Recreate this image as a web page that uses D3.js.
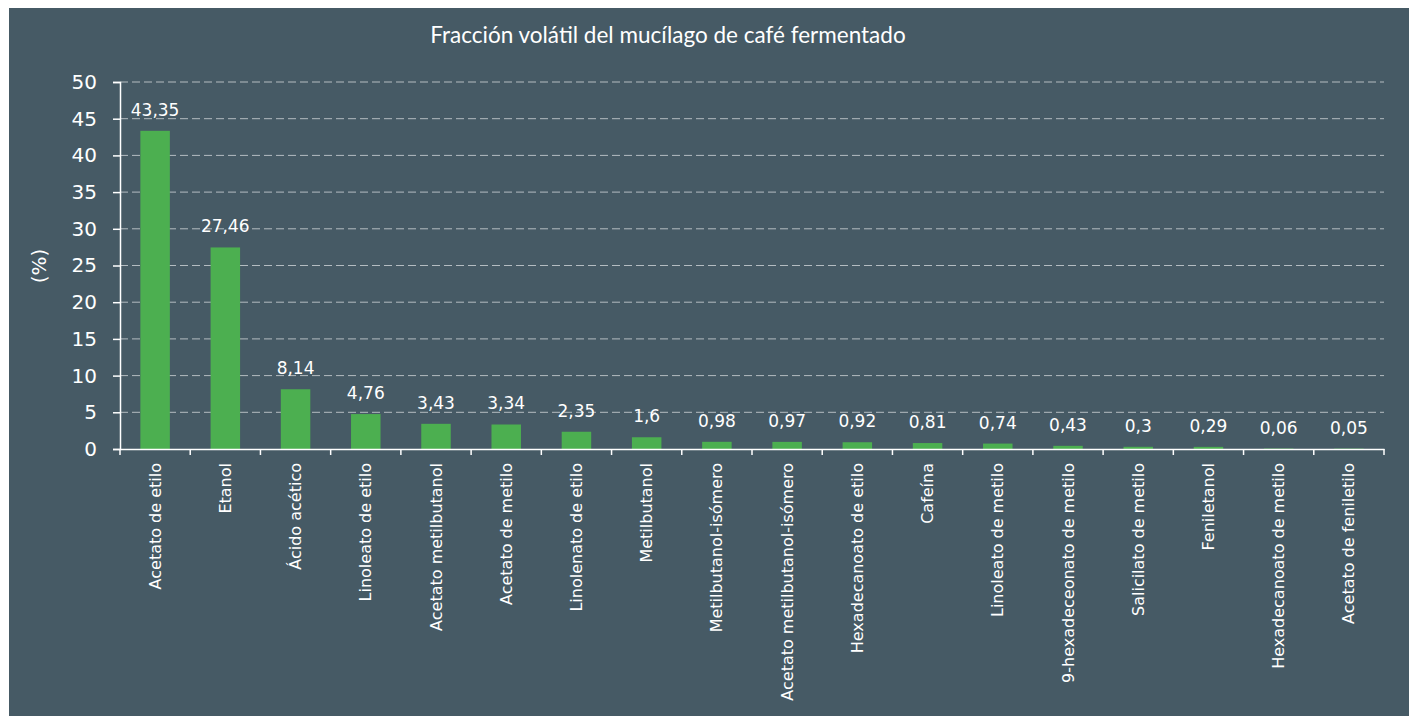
<!DOCTYPE html>
<html lang="es">
<head>
<meta charset="utf-8">
<title>Fracción volátil del mucílago de café fermentado</title>
<script src="https://d3js.org/d3.v7.min.js"></script>
<style>
  body { margin: 0; background: #ffffff; }
  svg { display: block; }
</style>
</head>
<body>
<div id="chart"></div>
<script>
// data
var categories = ["Acetato de etilo", "Etanol", "Ácido acético", "Linoleato de etilo",
  "Acetato metilbutanol", "Acetato de metilo", "Linolenato de etilo", "Metilbutanol",
  "Metilbutanol-isómero", "Acetato metilbutanol-isómero", "Hexadecanoato de etilo",
  "Cafeína", "Linoleato de metilo", "9-hexadeceonato de metilo", "Salicilato de metilo",
  "Feniletanol", "Hexadecanoato de metilo", "Acetato de feniletilo"]
var values = [43.35, 27.46, 8.14, 4.76, 3.43, 3.34, 2.35, 1.6, 0.98, 0.97, 0.92,
  0.81, 0.74, 0.43, 0.3, 0.29, 0.06, 0.05]
var yTicks = [0, 5, 10, 15, 20, 25, 30, 35, 40, 45, 50]
var title = "Fracción volátil del mucílago de café fermentado"
var yLabel = "(%)"

var w = 1412
var h = 716
var plotLeft = 120, plotRight = 1384, plotTop = 82, plotBottom = 449
var font = "'DejaVu Sans', sans-serif"

var svg = d3.select("#chart").append("svg")
  .attr("width", w)
  .attr("height", h)

// dark panel
svg.append("rect")
  .attr("x", 9).attr("y", 8)
  .attr("width", 1400).attr("height", h - 8)
  .attr("fill", "#465a65")

var xScale = d3.scaleBand()
  .domain(categories)
  .range([plotLeft, plotRight])
  .paddingInner(0.58)
  .paddingOuter(0.29)

var yScale = d3.scaleLinear()
  .domain([0, 50])
  .range([plotBottom, plotTop])

// dashed grid
svg.append("g")
  .selectAll("line")
  .data(yTicks.filter(function(d){ return d > 0 }))
  .enter()
  .append("line")
  .attr("x1", plotLeft).attr("x2", plotRight)
  .attr("y1", function(d){ return yScale(d) })
  .attr("y2", function(d){ return yScale(d) })
  .attr("stroke", "#b4bcc1")
  .attr("stroke-width", 1)
  .attr("stroke-dasharray", "8,4")

// bars
svg.append("g")
  .selectAll("rect")
  .data(values)
  .enter()
  .append("rect")
  .attr("x", function(d, i){ return xScale(categories[i]) })
  .attr("y", function(d){ return yScale(d) })
  .attr("width", xScale.bandwidth())
  .attr("height", function(d){ return plotBottom - yScale(d) })
  .attr("fill", "#4caf50")

// value labels
svg.append("g")
  .selectAll("text")
  .data(values)
  .enter()
  .append("text")
  .attr("x", function(d, i){ return xScale(categories[i]) + xScale.bandwidth() / 2 })
  .attr("y", function(d){ return yScale(d) - 15 })
  .attr("text-anchor", "middle")
  .attr("fill", "#ffffff")
  .style("font-family", font)
  .style("font-size", "17px")
  .text(function(d){ return String(d).replace(".", ",") })

// y axis
var yAxis = d3.axisLeft(yScale).tickValues(yTicks).tickSize(7).tickPadding(16)
var gy = svg.append("g")
  .attr("transform", "translate(" + plotLeft + ",0)")
  .call(yAxis)
gy.select(".domain").attr("stroke", "#ffffff").attr("stroke-width", 1.5)
gy.selectAll(".tick line").attr("stroke", "#ffffff").attr("stroke-width", 1.5)
gy.selectAll(".tick text")
  .attr("fill", "#ffffff")
  .style("font-family", font)
  .style("font-size", "20px")

// x axis: ticks sit on the band boundaries
var xAxis = d3.axisBottom(xScale).tickSize(0).tickPadding(0)
var gx = svg.append("g")
  .attr("transform", "translate(0," + plotBottom + ")")
  .call(xAxis)
gx.select(".domain").attr("stroke", "#ffffff").attr("stroke-width", 1.5)
gx.selectAll(".tick text")
  .attr("fill", "#ffffff")
  .style("font-family", font)
  .style("font-size", "16px")
  .attr("text-anchor", "end")
  .attr("transform", "rotate(-90)")
  .attr("x", -14)
  .attr("y", 0)
  .attr("dy", "0.35em")

var step = xScale.step()
var bounds = d3.range(categories.length + 1).map(function(i){ return plotLeft + i * step })
gx.selectAll(".bound")
  .data(bounds)
  .enter()
  .append("line")
  .attr("class", "bound")
  .attr("x1", function(d){ return d }).attr("x2", function(d){ return d })
  .attr("y1", 0).attr("y2", 6)
  .attr("stroke", "#ffffff")
  .attr("stroke-width", 1.5)

// title
svg.append("text")
  .attr("x", 668)
  .attr("y", 43)
  .attr("text-anchor", "middle")
  .attr("fill", "#ffffff")
  .style("font-family", "Lato, sans-serif")
  .style("font-size", "22.5px")
  .text(title)

// y label
svg.append("text")
  .attr("transform", "translate(46,266) rotate(-90)")
  .attr("text-anchor", "middle")
  .attr("fill", "#ffffff")
  .style("font-family", font)
  .style("font-size", "20px")
  .text(yLabel)
</script>
</body>
</html>
